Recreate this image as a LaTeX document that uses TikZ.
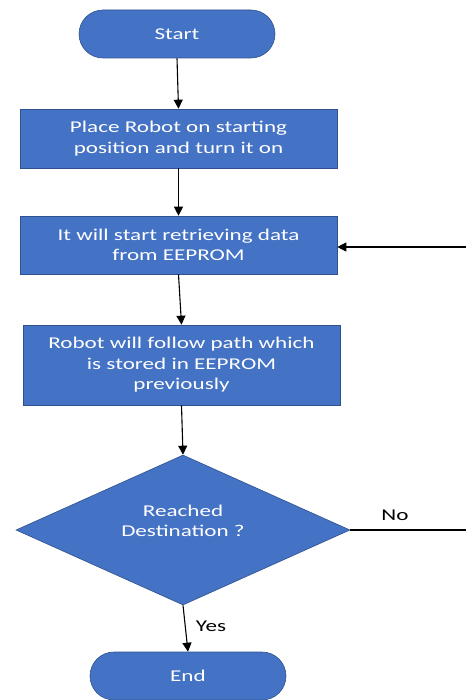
\documentclass[tikz,border=0pt]{standalone}
\usepackage{fontspec}
\setmainfont{Carlito}[FakeStretch=1.4]
\usetikzlibrary{shapes.geometric,arrows.meta}
\definecolor{boxblue}{HTML}{4472C4}
\definecolor{boxedge}{HTML}{2F528F}
\begin{document}
\begin{tikzpicture}[x=1pt,y=-1pt,
  every node/.style={font=\fontsize{16.5}{20.5}\selectfont},
  term/.style={draw=boxedge,line width=0.6pt,fill=boxblue,text=white,rounded corners=24pt,minimum width=196pt,minimum height=48pt,inner sep=0pt},
  procbox/.style={draw=boxedge,line width=0.6pt,fill=boxblue,text=white,align=center,minimum width=317pt,inner sep=0pt},
  dia/.style={diamond,draw=boxedge,line width=0.6pt,fill=boxblue,minimum width=334pt,minimum height=150pt,aspect=2.23,inner sep=0pt},
  wtxt/.style={text=white,align=center,inner sep=0pt},
  lbl/.style={text=black,inner sep=0pt},
  conn/.style={line width=1.1pt,-{Triangle[length=9pt,width=9pt]}},
  plain/.style={line width=1.1pt}]
\useasboundingbox (0,0) rectangle (466,700);
\node[term] (start) at (177,34) {Start};
\node[procbox,minimum height=59pt] (b1) at (178.5,138.5) {Place Robot on starting\\position and turn it on};
\node[procbox,minimum height=58pt] (b2) at (178.5,245) {It will start retrieving data\\from EEPROM};
\node[procbox,minimum height=80pt] (b3) at (181.5,365) {Robot will follow path which\\is stored in EEPROM\\previously};
\node[dia] (dec) at (183,530) {};
\node[wtxt] (dectxt) at (183,521) {Reached\\Destination ?};
\node[term] (end) at (188,676) {End};
\coordinate (noend) at (466,530);
\coordinate (fb) at (466,247);
\draw[conn] (start.south) -- (b1.north);
\draw[conn] (b1.south) -- (b2.north);
\draw[conn] (b2.south) -- (b3.north);
\draw[conn] (b3.south) -- (dec.north);
\draw[conn] (dec.south) -- (end.north);
\draw[plain] (dec.east) -- (noend);
\draw[conn] (fb) -- (b2.east |- fb);
\node[lbl] (no) at (395,515) {No};
\node[lbl] (yes) at (211,626) {Yes};
\end{tikzpicture}
\end{document}
